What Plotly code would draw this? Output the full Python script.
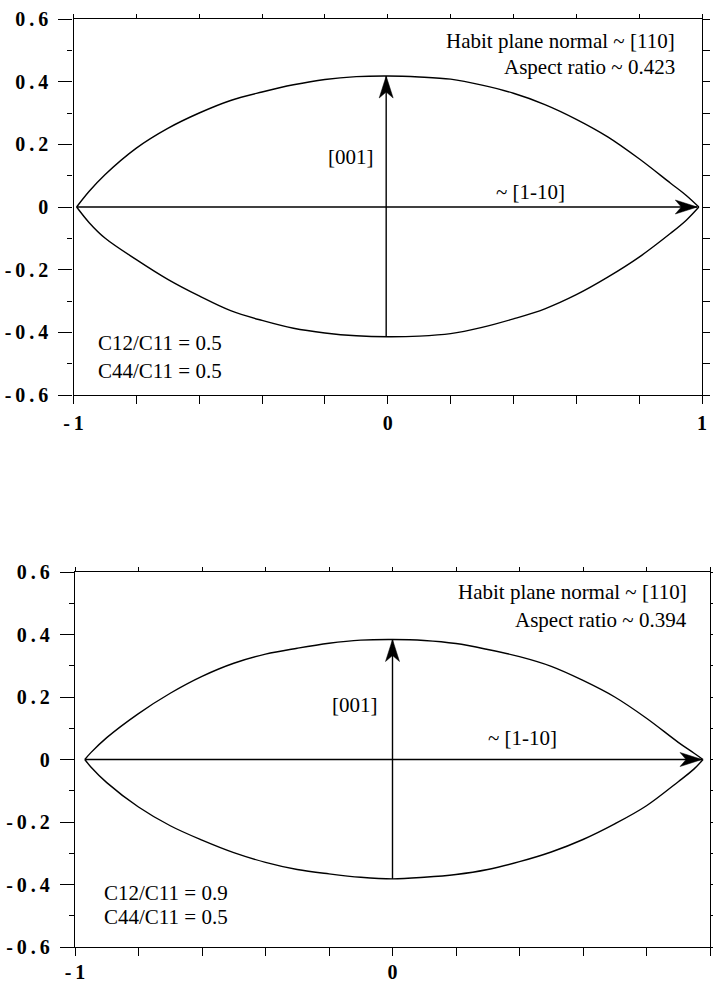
import plotly.graph_objects as go

W, H = 713, 984

# ---------------- data ----------------
# Panel 1 (C12/C11 = 0.5)
p1_upper_x = [-0.99, -0.95, -0.9, -0.8, -0.7, -0.6, -0.5, -0.4, -0.3, -0.2, -0.1, 0.0,
              0.1, 0.2, 0.3, 0.4, 0.5, 0.6, 0.7, 0.8, 0.9, 0.95, 0.99]
p1_upper_y = [0.0, 0.050, 0.103, 0.188, 0.251, 0.300, 0.340, 0.367, 0.390, 0.407, 0.416, 0.418,
              0.415, 0.408, 0.389, 0.363, 0.327, 0.280, 0.224, 0.154, 0.076, 0.037, 0.0]
p1_lower_x = [-0.99, -0.95, -0.9, -0.8, -0.7, -0.6, -0.5, -0.4, -0.3, -0.2, -0.1, 0.0,
              0.1, 0.2, 0.3, 0.4, 0.5, 0.6, 0.7, 0.8, 0.9, 0.95, 0.99]
p1_lower_y = [0.0, -0.050, -0.099, -0.168, -0.231, -0.284, -0.331, -0.362, -0.387, -0.402, -0.411, -0.414,
              -0.412, -0.404, -0.384, -0.357, -0.325, -0.280, -0.224, -0.160, -0.084, -0.042, 0.0]
p1_vert_arrow = dict(x0=-0.005, y0=-0.414, x1=-0.005, y1=0.418)
p1_horiz_arrow = dict(x0=-0.99, y0=0.0, x1=0.985, y1=0.0)

# Panel 2 (C12/C11 = 0.9)
p2_upper_x = [-0.969, -0.95, -0.9, -0.8, -0.7, -0.6, -0.5, -0.4, -0.3, -0.2, -0.1, 0.0,
              0.1, 0.2, 0.3, 0.4, 0.5, 0.6, 0.7, 0.8, 0.9, 0.95, 0.978]
p2_upper_y = [0.0, 0.022, 0.070, 0.147, 0.212, 0.266, 0.308, 0.337, 0.356, 0.372, 0.382, 0.384,
              0.381, 0.371, 0.352, 0.329, 0.298, 0.253, 0.200, 0.132, 0.055, 0.020, 0.0]
p2_lower_x = [-0.969, -0.95, -0.9, -0.8, -0.7, -0.6, -0.5, -0.4, -0.3, -0.2, -0.1, 0.0,
              0.1, 0.2, 0.3, 0.4, 0.5, 0.6, 0.7, 0.8, 0.9, 0.95, 0.978]
p2_lower_y = [0.0, -0.024, -0.074, -0.152, -0.212, -0.258, -0.298, -0.329, -0.352, -0.366, -0.377, -0.382,
              -0.377, -0.368, -0.352, -0.327, -0.296, -0.256, -0.206, -0.148, -0.071, -0.030, 0.0]
p2_vert_arrow = dict(x0=0.0, y0=-0.382, x1=0.0, y1=0.384)
p2_horiz_arrow = dict(x0=-0.969, y0=0.0, x1=0.975, y1=0.0)

# Text
p1_texts = ["Habit plane normal ~ [110]", "Aspect ratio ~ 0.423", "[001]", "~ [1-10]",
            "C12/C11 = 0.5", "C44/C11 = 0.5"]
p2_texts = ["Habit plane normal ~ [110]", "Aspect ratio ~ 0.394", "[001]", "~ [1-10]",
            "C12/C11 = 0.9", "C44/C11 = 0.5"]

x_range = [-1, 1]
y_range = [-0.6, 0.6]
x_ticks = [-1, -0.8, -0.6, -0.4, -0.2, 0, 0.2, 0.4, 0.6, 0.8, 1]
x_ticklabels = ["-1", "", "", "", "", "0", "", "", "", "", "1"]
y_ticks = [-0.6, -0.4, -0.2, 0, 0.2, 0.4, 0.6]
y_ticklabels = ["-0.6", "-0.4", "-0.2", "0", "0.2", "0.4", "0.6"]
y_minor = [-0.5, -0.3, -0.1, 0.1, 0.3, 0.5]
y_all = [-0.6, -0.5, -0.4, -0.3, -0.2, -0.1, 0, 0.1, 0.2, 0.3, 0.4, 0.5, 0.6]

# ---------------- layout geometry ----------------
# panel pixel boxes: (left, right, top, bottom)
boxes = [(73.5, 702.0, 19.0, 395.0), (75.0, 710.0, 572.0, 947.0)]
x_label_standoff = [2, -1]

SERIF = "Liberation Serif"
LC = "black"
LW = 1.4
SP = "\u2009"  # thin space: the scanned tick labels are widely spaced


def spaced(s):
    return SP.join(list(s))


fig = go.Figure()


def dom(box):
    l, r, t, b = box
    return [l / W, r / W], [1 - b / H, 1 - t / H]


panels = [
    (p1_upper_x, p1_upper_y, p1_lower_x, p1_lower_y, p1_vert_arrow, p1_horiz_arrow, p1_texts),
    (p2_upper_x, p2_upper_y, p2_lower_x, p2_lower_y, p2_vert_arrow, p2_horiz_arrow, p2_texts),
]

# text positions in data units (per panel)
text_pos = [
    [(0.922, 0.530, "right"), (0.922, 0.447, "right"), (-0.117, 0.16, "center"),
     (0.453, 0.049, "center"), (-0.93, -0.434, "left"), (-0.93, -0.523, "left")],
    [(0.933, 0.536, "right"), (0.933, 0.447, "right"), (-0.117, 0.174, "center"),
     (0.411, 0.069, "center"), (-0.915, -0.427, "left"), (-0.915, -0.503, "left")],
]

shapes = []
annotations = []

for i, (ux, uy, lx, ly, va, ha, texts) in enumerate(panels):
    box = boxes[i]
    xd, yd = dom(box)
    main_x = f"x{2*i+1}" if i else "x"
    main_y = f"y{2*i+1}" if i else "y"
    ov_x = f"x{2*i+2}"
    ov_y = f"y{2*i+2}"
    mxk = "xaxis" if i == 0 else f"xaxis{2*i+1}"
    myk = "yaxis" if i == 0 else f"yaxis{2*i+1}"
    oxk = f"xaxis{2*i+2}"
    oyk = f"yaxis{2*i+2}"

    for cx, cy in ((ux, uy), (lx, ly)):
        fig.add_trace(go.Scatter(x=cx, y=cy, mode="lines",
                                 line=dict(color=LC, width=LW, shape="spline", smoothing=1.0),
                                 xaxis=main_x, yaxis=main_y, showlegend=False, hoverinfo="skip"))
    # arrow shafts
    for a in (va, ha):
        fig.add_trace(go.Scatter(x=[a["x0"], a["x1"]], y=[a["y0"], a["y1"]], mode="lines",
                                 line=dict(color=LC, width=LW), xaxis=main_x, yaxis=main_y,
                                 showlegend=False, hoverinfo="skip"))
    # dummy trace to create overlay axes (top / right frame)
    fig.add_trace(go.Scatter(x=[None], y=[None], xaxis=ov_x, yaxis=ov_y, showlegend=False, hoverinfo="skip"))

    common = dict(showgrid=False, zeroline=False, showline=True, linecolor=LC, linewidth=LW,
                  tickcolor=LC, tickwidth=1.3, fixedrange=True, automargin=False)
    tf = dict(family=SERIF, size=20, color=LC, weight="bold")
    fig.update_layout(**{
        mxk: dict(domain=xd, range=x_range, anchor=main_y, tickmode="array", tickvals=x_ticks,
                  ticktext=[spaced(t) for t in x_ticklabels], ticks="outside", ticklen=8, side="bottom",
                  tickfont=tf, ticklabelstandoff=x_label_standoff[i], **common),
        myk: dict(domain=yd, range=y_range, anchor=main_x, tickmode="array", tickvals=y_ticks,
                  ticktext=[spaced(t) for t in y_ticklabels], ticks="outside", ticklen=14, side="left",
                  minor=dict(tickmode="array", tickvals=y_minor, ticks="outside", ticklen=5,
                             tickcolor=LC, tickwidth=1.3, showgrid=False),
                  tickfont=tf, ticklabelstandoff=6, **common),
        oxk: dict(overlaying=main_x, range=x_range, anchor=ov_y, side="top", tickmode="array",
                  tickvals=x_ticks, showticklabels=False, ticks="outside", ticklen=4, **common),
        oyk: dict(overlaying=main_y, range=y_range, anchor=ov_x, side="right", tickmode="array",
                  tickvals=y_all, showticklabels=False, ticks="outside", ticklen=7, **common),
    })

    # arrowheads: notched filled heads, sized in pixels and converted to data units
    l, r, t, b = box
    sx = (r - l) / (x_range[1] - x_range[0])   # px per x unit
    sy = (b - t) / (y_range[1] - y_range[0])   # px per y unit
    L, HW, N = 22.0, 7.0, 6.0
    for a in (va, ha):
        dxp = (a["x1"] - a["x0"]) * sx
        dyp = (a["y1"] - a["y0"]) * sy
        n = (dxp ** 2 + dyp ** 2) ** 0.5
        ux_, uy_ = dxp / n, dyp / n
        nx_, ny_ = -uy_, ux_
        tip = (a["x1"], a["y1"])

        def pt(along, side):
            px = -along * ux_ + side * nx_
            py = -along * uy_ + side * ny_
            return tip[0] + px / sx, tip[1] + py / sy

        pts = [pt(0, 0), pt(L, HW), pt(L - N, 0), pt(L, -HW)]
        path = "M " + " L ".join(f"{p[0]:.5f},{p[1]:.5f}" for p in pts) + " Z"
        shapes.append(dict(type="path", path=path, xref=main_x, yref=main_y,
                           fillcolor=LC, line=dict(color=LC, width=0.5)))

    for (tx, ty, anc), txt in zip(text_pos[i], texts):
        annotations.append(dict(x=tx, y=ty, xref=main_x, yref=main_y, text=txt, showarrow=False,
                                xanchor=anc, yanchor="middle",
                                font=dict(family=SERIF, size=21, color=LC)))

fig.update_layout(width=W, height=H, margin=dict(l=0, r=0, t=0, b=0, autoexpand=False),
                  paper_bgcolor="white", plot_bgcolor="white",
                  shapes=shapes, annotations=annotations, showlegend=False)

# remove the page's default 8px body margin so the figure sits at the window's corner
fig.write_html("out.html", config={"responsive": False, "displayModeBar": False},
               post_script="document.body.style.margin='0';document.body.style.overflow='hidden';")
